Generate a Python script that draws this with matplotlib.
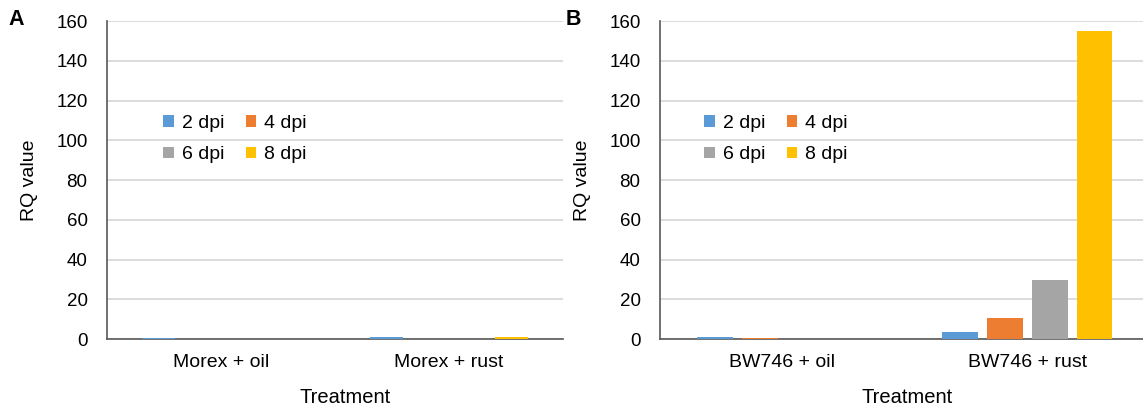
import numpy as np
import matplotlib
matplotlib.use('Agg')
import matplotlib.pyplot as plt
from matplotlib.patches import Patch

plt.rcParams['font.family'] = ['Liberation Sans', 'DejaVu Sans']

# RQ values per treatment, one list per time point
series_labels = ['2 dpi', '4 dpi', '6 dpi', '8 dpi']
colors = ['#5B9BD5', '#ED7D31', '#A5A5A5', '#FFC000']

morex_treatments = ['Morex + oil', 'Morex + rust']
morex_rq = [
    [0.5, 1.1],    # 2 dpi
    [0.05, 0.05],  # 4 dpi
    [0.05, 0.05],  # 6 dpi
    [0.05, 1.0],   # 8 dpi
]

bw_treatments = ['BW746 + oil', 'BW746 + rust']
bw_rq = [
    [0.9, 3.7],
    [0.7, 10.6],
    [0.05, 29.8],
    [0.05, 155.0],
]

yticks = [0, 20, 40, 60, 80, 100, 120, 140, 160]

fig = plt.figure(figsize=(11.43, 4.12), dpi=100)
ax_a = fig.add_axes([0.0936, 0.177, 0.399, 0.772])
ax_b = fig.add_axes([0.5774, 0.177, 0.4287, 0.772])


def draw_panel(ax, treatments, values, letter, legend_xy, letter_x, xlabel_x):
    x = np.arange(len(treatments))
    pitch = 0.183
    width = 0.145
    for i, (vals, col) in enumerate(zip(values, colors)):
        ax.bar(x + (i - 1.5) * pitch, vals, width=width, color=col, zorder=3)
    ax.set_xlim(-0.5, len(treatments) - 0.5)
    ax.set_ylim(0, 160)
    ax.set_yticks(yticks)
    ax.yaxis.grid(True, color='#d9d9d9', linewidth=1.3, zorder=0)
    ax.set_axisbelow(True)
    for s in ['top', 'right']:
        ax.spines[s].set_visible(False)
    ax.spines['left'].set_color('#595959')
    ax.spines['bottom'].set_color('#595959')
    ax.spines['left'].set_linewidth(1.2)
    ax.spines['bottom'].set_linewidth(1.2)
    ax.tick_params(axis='both', length=0, colors='#000000')
    ax.tick_params(axis='y', pad=14, labelsize=13.5)
    ax.tick_params(axis='x', pad=11, labelsize=14)
    ax.set_xticks(x)
    ax.set_xticklabels(treatments)
    ax.set_xlabel('Treatment', fontsize=14.5, labelpad=12)
    ax.xaxis.set_label_coords(xlabel_x, -0.155)
    ax.set_ylabel('RQ value', fontsize=14, labelpad=13)
    handles = [Patch(facecolor=c, label=l) for c, l in zip(colors, series_labels)]
    # reorder for row-wise filling with two columns
    order = [0, 2, 1, 3]
    ax.legend([handles[k] for k in order], [series_labels[k] for k in order],
              ncol=2, frameon=False, fontsize=14, loc='upper left',
              bbox_to_anchor=legend_xy, handlelength=0.55, handleheight=0.55,
              handletextpad=0.4, columnspacing=1.1, labelspacing=0.75)
    fig.text(letter_x, 0.952, letter, fontsize=15.5, fontweight='bold',
             ha='left', va='center')


draw_panel(ax_a, morex_treatments, morex_rq, 'A', (0.085, 0.76), 0.007, 0.522)
draw_panel(ax_b, bw_treatments, bw_rq, 'B', (0.055, 0.76), 0.495, 0.505)

fig.savefig('out.png', dpi=100)
